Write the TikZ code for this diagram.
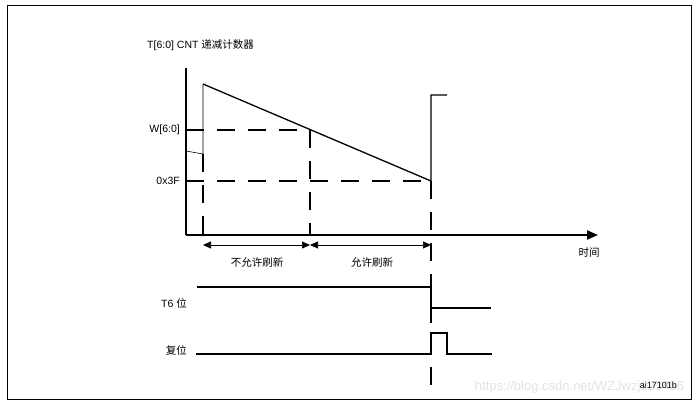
\documentclass[tikz,border=0pt]{standalone}
\usepackage{fontspec}
\setmainfont{Liberation Sans}
\newfontfamily\cjk{Noto Sans CJK SC}
\usetikzlibrary{arrows.meta}

\begin{document}
\begin{tikzpicture}[x=1pt,y=-1pt,
  every node/.style={font=\fontsize{10.5}{12}\selectfont,inner sep=0pt},
  axis line/.style={line width=2pt},
  dash line/.style={line width=2pt,dash pattern=on 18pt off 13pt},
  wave/.style={line width=1.3pt},
  span/.style={line width=0.7pt,{Triangle[length=8pt,width=7pt]}-{Triangle[length=8pt,width=7pt]}}]
  \useasboundingbox (0,0) rectangle (697,406);
  \draw[line width=1pt] (7,6) rectangle (691,400);
  \node[anchor=east,text=gray!22,font=\fontsize{13}{15}\selectfont] (mark) at (684,387) {https://blog.csdn.net/WZJwzj123456};
  \node[anchor=west] (title) at (147,45) {T[6:0] CNT {\cjk 递减计数器}};

  \coordinate (origin) at (186,235);
  \draw[axis line] (186,68) coordinate (y axis) -- (origin);
  \draw[axis line,-{Triangle[length=11pt,width=9pt]}] (origin) -- (598,235) coordinate (x axis);
  \node (time) at (589,253) {\cjk 时间};
  \node[anchor=east] (w label) at (180,130) {W[6:0]};
  \node[anchor=east] (f label) at (180,181) {0x3F};

  \coordinate (top) at (203,84);
  \coordinate (bottom) at (431,181);
  \coordinate (w cross) at (310,130);
  \coordinate (a) at (203,235);
  \coordinate (b) at (310,235);
  \coordinate (c) at (431,235);
  \draw[dash line] (186,130) -- (w cross) -- (b);
  \draw[dash line] (186,181) -- (bottom);
  \draw[dash line] (203,154) -- (a);
  \draw[dash line] (bottom) -- (431,386);

  \draw[line width=0.6pt] (186,151) -- (203,154) -- (top);
  \draw[wave] (top) -- (bottom) -- (431,95) -- (447,95);

  \draw[span] (a |- 0,245) -- (b |- 0,245);
  \draw[span] (b |- 0,245) -- (c |- 0,245);
  \node (closed) at (257,262) {\cjk 不允许刷新};
  \node (open) at (372,262) {\cjk 允许刷新};

  \node[anchor=east] (t6) at (187,303) {T6 {\cjk 位}};
  \draw[wave] (197,287) -- (431,287) -- (431,308) -- (491,308);
  \node[anchor=east] (reset) at (187,350) {\cjk 复位};
  \draw[wave] (196,354) -- (431,354) -- (431,333) -- (447,333) -- (447,354) -- (492,354);

  \node[anchor=east,font=\fontsize{9}{11}\selectfont] (fig id) at (677,385) {ai17101b};
\end{tikzpicture}
\end{document}
